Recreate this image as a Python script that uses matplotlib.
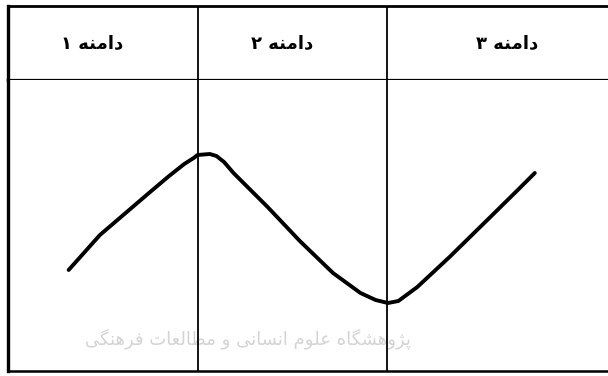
import matplotlib
matplotlib.use('Agg')
import matplotlib.pyplot as plt

# column headers (logical order) and curve
domains = ['دامنه ۱', 'دامنه ۲', 'دامنه ۳']
domain_edges = [1.0, 2.0]
curve_x = [0.32, 0.485, 0.75, 0.85, 0.93, 0.98, 1.00, 1.065, 1.10,
           1.14, 1.19, 1.37, 1.54, 1.715, 1.86, 1.94, 2.005, 2.06, 2.16, 2.33,
           2.54, 2.69, 2.78]
curve_y = [1.01, 1.36, 1.79, 1.95, 2.07, 2.13, 2.16, 2.17, 2.15,
           2.09, 1.98, 1.64, 1.30, 0.98, 0.78, 0.71, 0.68, 0.70, 0.84, 1.14,
           1.53, 1.81, 1.98]
watermark = 'پژوهشگاه علوم انسانی و مطالعات فرهنگی'

# arabic presentation forms: isolated, final, initial, medial
FORMS = {
    'ا': (0xFE8D, 0xFE8E, None, None), 'د': (0xFEA9, 0xFEAA, None, None),
    'ر': (0xFEAD, 0xFEAE, None, None), 'ژ': (0xFB8A, 0xFB8B, None, None),
    'و': (0xFEED, 0xFEEE, None, None),
    'پ': (0xFB56, 0xFB57, 0xFB58, 0xFB59), 'ت': (0xFE95, 0xFE96, 0xFE97, 0xFE98),
    'س': (0xFEB1, 0xFEB2, 0xFEB3, 0xFEB4), 'ش': (0xFEB5, 0xFEB6, 0xFEB7, 0xFEB8),
    'ط': (0xFEC1, 0xFEC2, 0xFEC3, 0xFEC4), 'ع': (0xFEC9, 0xFECA, 0xFECB, 0xFECC),
    'ف': (0xFED1, 0xFED2, 0xFED3, 0xFED4), 'گ': (0xFB92, 0xFB93, 0xFB94, 0xFB95),
    'ل': (0xFEDD, 0xFEDE, 0xFEDF, 0xFEE0), 'م': (0xFEE1, 0xFEE2, 0xFEE3, 0xFEE4),
    'ن': (0xFEE5, 0xFEE6, 0xFEE7, 0xFEE8), 'ه': (0xFEE9, 0xFEEA, 0xFEEB, 0xFEEC),
    'ی': (0xFBFC, 0xFBFD, 0xFBFE, 0xFBFF),
}


def shape(s):
    # pick joined forms and flip to visual order
    out = []
    for i, c in enumerate(s):
        if c not in FORMS:
            out.append(c)
            continue
        prev = s[i - 1] if i > 0 else ''
        nxt = s[i + 1] if i + 1 < len(s) else ''
        jp = prev in FORMS and FORMS[prev][2] is not None
        jn = nxt in FORMS and FORMS[c][2] is not None
        iso, fin, ini, med = FORMS[c]
        if jp and jn:
            code = med
        elif jp:
            code = fin
        elif jn:
            code = ini
        else:
            code = iso
        out.append(chr(code))
    return ''.join(out)[::-1]


plt.rcParams['font.family'] = ['DejaVu Sans']

W, H = 608, 376
fig = plt.figure(figsize=(W / 100, H / 100), dpi=100)
xmax = 600 / 189.5

# header row
hax = fig.add_axes([8 / W, (H - 80) / H, 600 / W, 74 / H])
hax.set_xlim(0, xmax)
hax.set_ylim(0, 1)
label_x = [0.443, 1.446, 2.633]
for lx, name in zip(label_x, domains):
    hax.text(lx, 0.50, shape(name), ha='center', va='center',
             fontsize=13, fontweight='bold', color='black')
for e in domain_edges:
    hax.axvline(e, color='black', lw=1.3)
hax.spines['right'].set_visible(False)
hax.spines['left'].set_linewidth(2.4)
hax.spines['top'].set_linewidth(2.0)
hax.spines['bottom'].set_linewidth(1.6)
hax.set_xticks([])
hax.set_yticks([])

# chart area
ax = fig.add_axes([8 / W, (H - 371) / H, 600 / W, 291 / H])
ax.set_xlim(0, xmax)
ax.set_ylim(0, 2.91)
for e in domain_edges:
    ax.axvline(e, color='black', lw=1.3)
ax.text(0.40, 0.11, shape(watermark), transform=ax.transAxes, ha='center',
        va='center', fontsize=13, color='#d4d4d4', zorder=0)
ax.plot(curve_x, curve_y, color='black', lw=2.8, solid_capstyle='round',
        solid_joinstyle='round')
ax.spines['right'].set_visible(False)
ax.spines['top'].set_visible(False)
ax.spines['left'].set_linewidth(2.4)
ax.spines['bottom'].set_linewidth(1.8)
ax.set_xticks([])
ax.set_yticks([])

fig.savefig('out.png', dpi=100)
